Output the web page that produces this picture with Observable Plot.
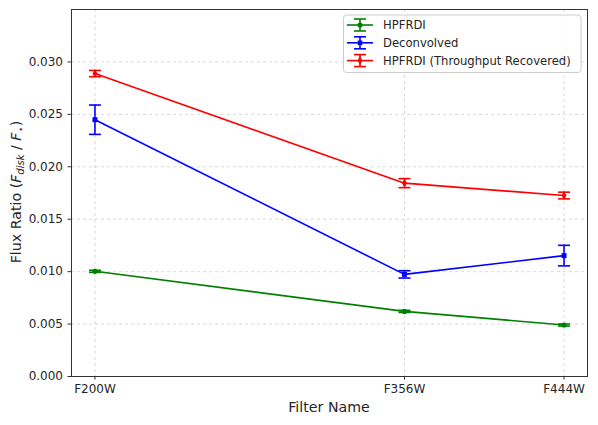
<!DOCTYPE html>
<html>
<head>
<meta charset="utf-8">
<script src="https://cdn.jsdelivr.net/npm/d3@7"></script>
<script src="https://cdn.jsdelivr.net/npm/@observablehq/plot@0.6"></script>
<style>
  html, body { margin: 0; padding: 0; background: #fff; }
  #chart svg { display: block; }
</style>
</head>
<body>
<div id="chart"></div>
<script>
// Filters and their x positions (wavelength-like)
const filters = ["F200W", "F356W", "F444W"];
const filterX = [2.00, 3.61, 4.44];

// Series values and errors
const hpfrdi = [0.01003, 0.00621, 0.00491];
const hpfrdiErr = [0.00010, 0.00010, 0.00010];
const deconv = [0.02449, 0.00974, 0.01153];
const deconvErr = [0.00140, 0.00035, 0.00098];
const recovered = [0.02889, 0.01844, 0.01726];
const recoveredErr = [0.00030, 0.00043, 0.00032];

const yTicks = [0, 0.005, 0.010, 0.015, 0.020, 0.025, 0.030];

const seriesNames = ["HPFRDI", "Deconvolved", "HPFRDI (Throughput Recovered)"];
const seriesColors = ["#008000", "#0000ff", "#ff0000"];
const seriesSymbols = ["circle", "square", "diamond"];
const seriesValues = [hpfrdi, deconv, recovered];
const seriesErrs = [hpfrdiErr, deconvErr, recoveredErr];

const rows = [];
seriesNames.forEach((s, si) => {
  filters.forEach((f, i) => {
    rows.push({series: s, filter: f, x: filterX[i], y: seriesValues[si][i], err: seriesErrs[si][i]});
  });
});

const capSymbol = {
  draw(ctx, size) { ctx.moveTo(-6, 0); ctx.lineTo(6, 0); }
};

const font = "DejaVu Sans, sans-serif";
const gridStyle = {stroke: "#b0b0b0", strokeOpacity: 0.6, strokeWidth: 0.8, strokeDasharray: "3,3"};
const marks = [
  Plot.gridY(yTicks, gridStyle),
  Plot.gridX(filterX, gridStyle),
  Plot.axisY(yTicks, {tickFormat: d3.format(".3f"), tickSize: 3.5, tickPadding: 5, label: null, fontSize: 12, stroke: "#333"}),
  Plot.axisX(filterX, {tickFormat: d => filters[filterX.indexOf(d)], tickSize: 3.5, tickPadding: 4, label: null, fontSize: 12}),
];
seriesNames.forEach((s, si) => {
  const data = rows.filter(r => r.series === s);
  const c = seriesColors[si];
  marks.push(
    Plot.line(data, {x: "x", y: "y", stroke: c, strokeWidth: 1.6}),
    Plot.ruleX(data, {x: "x", y1: d => d.y - d.err, y2: d => d.y + d.err, stroke: c, strokeWidth: 1.6}),
    Plot.dot(data, {x: "x", y: d => d.y - d.err, symbol: capSymbol, stroke: c, strokeWidth: 1.6, r: 3}),
    Plot.dot(data, {x: "x", y: d => d.y + d.err, symbol: capSymbol, stroke: c, strokeWidth: 1.6, r: 3}),
    Plot.dot(data, {x: "x", y: "y", symbol: seriesSymbols[si], fill: c, stroke: null, r: si === 1 ? 2.8 : 2.6})
  );
});
marks.push(Plot.frame({stroke: "#333", strokeWidth: 1}));

const chart = Plot.plot({
  width: 598,
  height: 425,
  marginLeft: 71,
  marginRight: 11,
  marginTop: 9,
  marginBottom: 49,
  x: {domain: [1.878, 4.562]},
  y: {domain: [0, 0.035]},
  style: {fontFamily: font, fontSize: "12px", color: "#262626", background: "#fff"},
  marks
});

const svg = d3.select(chart);
// Axis labels
svg.append("text")
  .attr("x", 329).attr("y", 412)
  .attr("text-anchor", "middle")
  .attr("font-family", font).attr("font-size", 14.2).attr("fill", "#262626")
  .text("Filter Name");

const yl = svg.append("text")
  .attr("transform", "translate(21,192) rotate(-90)")
  .attr("text-anchor", "middle")
  .attr("font-family", font).attr("font-size", 14.2).attr("fill", "#262626");
yl.append("tspan").text("Flux Ratio (");
yl.append("tspan").attr("font-style", "italic").text("F");
yl.append("tspan").attr("font-style", "italic").attr("font-size", 10).attr("dy", 3).text("disk");
yl.append("tspan").attr("dy", -3).text(" / ");
yl.append("tspan").attr("font-style", "italic").text("F");
yl.append("tspan").attr("font-size", 10).attr("dy", 3).text("⋆");
yl.append("tspan").attr("dy", -3).text(")");

// Legend
const lg = svg.append("g");
lg.append("rect")
  .attr("x", 343.5).attr("y", 15).attr("width", 237.5).attr("height", 57.5)
  .attr("rx", 3).attr("fill", "#fff").attr("fill-opacity", 0.85)
  .attr("stroke", "#cccccc").attr("stroke-width", 1);
const symGen = (name, r) => d3.symbol(name === "circle" ? d3.symbolCircle : name === "square" ? d3.symbolSquare : d3.symbolDiamond, Math.PI * r * r)();
seriesNames.forEach((s, i) => {
  const cy = 25 + i * 17.8;
  const c = seriesColors[i];
  const g = lg.append("g");
  g.append("line").attr("x1", 347).attr("x2", 373).attr("y1", cy).attr("y2", cy).attr("stroke", c).attr("stroke-width", 1.6);
  g.append("line").attr("x1", 360).attr("x2", 360).attr("y1", cy - 6).attr("y2", cy + 6).attr("stroke", c).attr("stroke-width", 1.6);
  g.append("line").attr("x1", 354).attr("x2", 366).attr("y1", cy - 6).attr("y2", cy - 6).attr("stroke", c).attr("stroke-width", 1.6);
  g.append("line").attr("x1", 354).attr("x2", 366).attr("y1", cy + 6).attr("y2", cy + 6).attr("stroke", c).attr("stroke-width", 1.6);
  g.append("path").attr("d", symGen(seriesSymbols[i], 2.6)).attr("transform", `translate(360,${cy})`).attr("fill", c);
  g.append("text").attr("x", 383).attr("y", cy).attr("dy", "0.36em")
    .attr("text-anchor", "start")
    .attr("font-family", font).attr("font-size", 11.6).attr("fill", "#262626").text(s);
});

document.getElementById("chart").appendChild(chart);
</script>
</body>
</html>
